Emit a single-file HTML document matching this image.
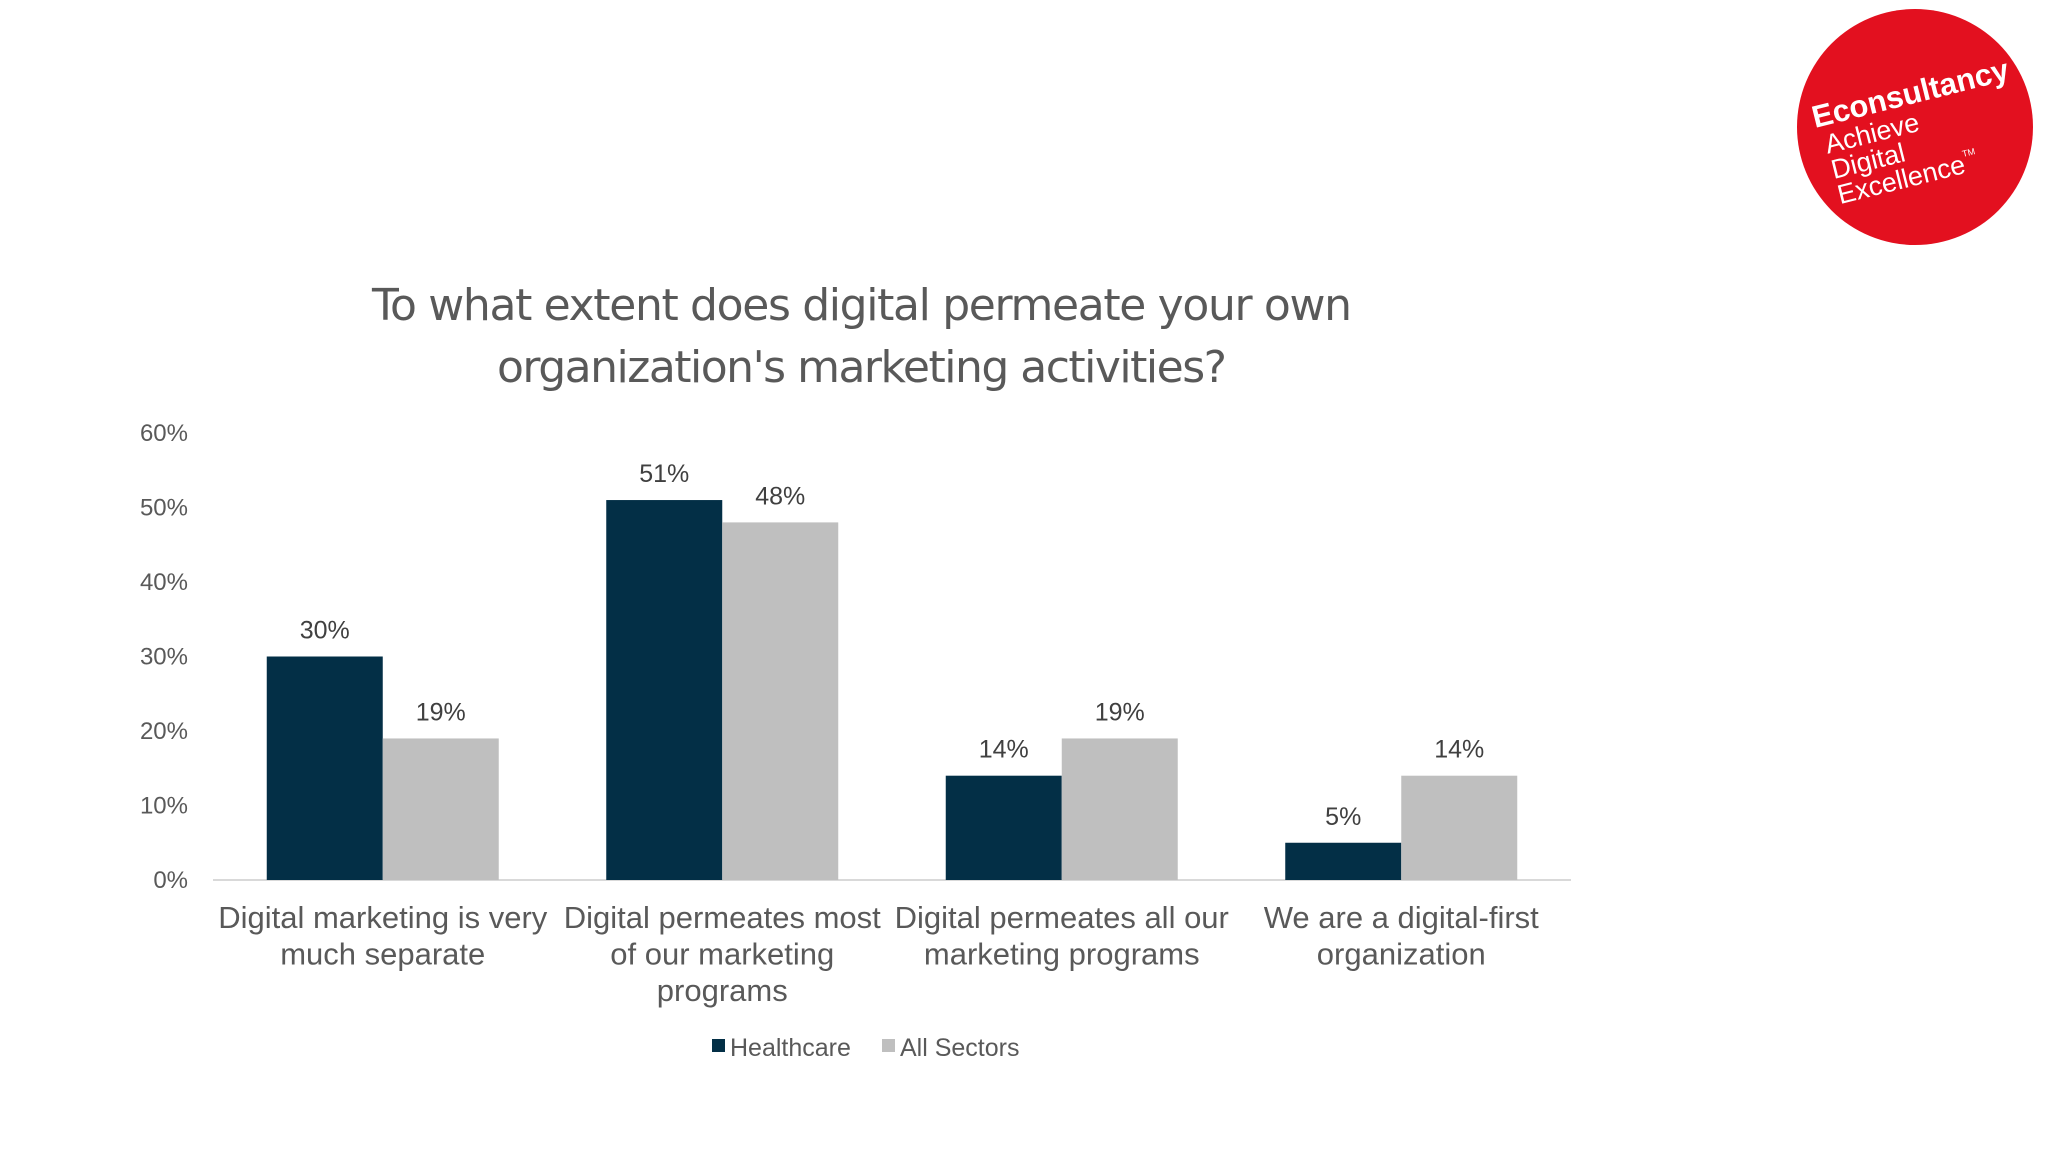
<!DOCTYPE html>
<html><head><meta charset="utf-8"><style>
body{margin:0;background:#fff;}
svg{display:block;font-family:"Liberation Sans",Arial,sans-serif;}
</style></head><body>
<svg id="chart" width="2048" height="1152" viewBox="0 0 2048 1152" xmlns="http://www.w3.org/2000/svg">
<g>
<circle cx="1915" cy="127" r="118" fill="#e3101f"/>
<g transform="translate(1815,128) rotate(-14)" fill="#fff">
<text x="0" y="0" font-size="31" font-weight="bold">Econsultancy</text>
<text x="6" y="28" font-size="27">Achieve</text>
<text x="6" y="54" font-size="27">Digital</text>
<text x="6" y="80" font-size="27">Excellence<tspan font-size="9" dy="-16">TM</tspan></text>
</g></g>
<text x="862" y="320" font-size="44" fill="#595959" text-anchor="middle" font-family="DejaVu Sans, Liberation Sans, sans-serif" textLength="980">To what extent does digital permeate your own</text>
<text x="862" y="382" font-size="44" fill="#595959" text-anchor="middle" font-family="DejaVu Sans, Liberation Sans, sans-serif" textLength="730">organization's marketing activities?</text>
<g id="plot"></g>
<g>
<rect x="712" y="1039" width="13" height="13" fill="#032f46"/>
<text x="730" y="1056" font-size="25" fill="#595959">Healthcare</text>
<rect x="882" y="1039" width="13" height="13" fill="#bfbfbf"/>
<text x="900" y="1056" font-size="25" fill="#595959">All Sectors</text>
</g>
</svg>
<script>
const categories=[["Digital marketing is very","much separate"],["Digital permeates most","of our marketing","programs"],["Digital permeates all our","marketing programs"],["We are a digital-first","organization"]];
const healthcare=[30,51,14,5];
const allSectors=[19,48,19,14];
const yTicks=[0,10,20,30,40,50,60];
const NS="http://www.w3.org/2000/svg";
const plot=document.getElementById('plot');
const x0=213,x1=1571,y0=880,y60=433;
const bandW=(x1-x0)/categories.length;
const y=v=>y0-(v/60)*(y0-y60);
function mk(tag,attrs,txt){const e=document.createElementNS(NS,tag);for(const k in attrs)e.setAttribute(k,attrs[k]);if(txt!==undefined)e.textContent=txt;plot.appendChild(e);return e;}
yTicks.forEach(t=>{const e=mk('text',{x:188,y:y(t)+8,'font-size':24,fill:'#595959','text-anchor':'end'},t+'%');

});
const ax=mk('line',{x1:x0,x2:x1,y1:y0,y2:y0,stroke:'#d9d9d9','stroke-width':2});


const bw=116;
categories.forEach((c,i)=>{
 const cx=x0+bandW*(i+0.5);
 [[healthcare[i],'#032f46',cx-bw,'healthcare'],[allSectors[i],'#bfbfbf',cx,'all-sectors']].forEach(([v,col,bx,nm])=>{
  const r=mk('rect',{x:bx,y:y(v),width:bw,height:y0-y(v),fill:col});
  
  
  const l=mk('text',{x:bx+bw/2,y:y(v)-18,'font-size':25,fill:'#404040','text-anchor':'middle'},v+'%');
  
  
 });
 c.forEach((line,j)=>{const t=mk('text',{x:cx,y:928+j*36.5,'font-size':31,fill:'#595959','text-anchor':'middle'},line);
 
 });
});
</script>
</body></html>
